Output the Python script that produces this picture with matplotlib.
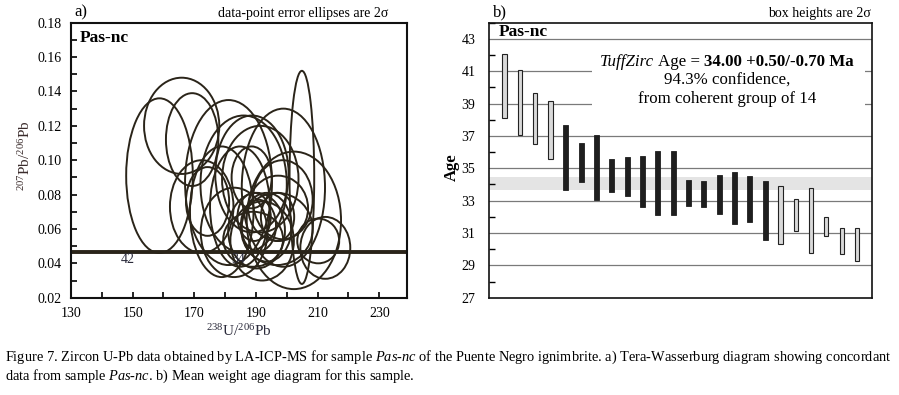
import matplotlib as mpl
mpl.use('agg')
import matplotlib.pyplot as plt
from matplotlib.patches import Ellipse, Rectangle
from matplotlib.ticker import MultipleLocator, FixedLocator
import numpy as np

plt.rcParams['font.family'] = ['Liberation Serif', 'DejaVu Serif']
plt.rcParams['mathtext.fontset'] = 'custom'
plt.rcParams['mathtext.rm'] = 'Liberation Serif'
plt.rcParams['mathtext.it'] = 'Liberation Serif:italic'
plt.rcParams['mathtext.bf'] = 'Liberation Serif:bold'

# a) Tera-Wasserburg error ellipses (centre, half-width, half-height)
ell_x  = [158.7, 165.9, 169.3, 181.1, 186.0, 198.9, 202.3, 172.4, 178.9, 184.8,
          189.4, 190.8, 190.2, 193.5, 196.8, 210.2, 212.5, 204.9, 191.4, 188.7,
          182.9, 192.0, 189.1, 174.3, 188.6, 198.7, 197.0, 197.2]
ell_y  = [0.091, 0.120, 0.112, 0.087, 0.086, 0.084, 0.065, 0.073, 0.070, 0.073,
          0.067, 0.062, 0.059, 0.061, 0.060, 0.053, 0.049, 0.090, 0.089, 0.092,
          0.058, 0.053, 0.054, 0.076, 0.090, 0.077, 0.067, 0.072]
ell_rx = [10.8, 12.2, 8.5, 14.1, 14.0, 13.5, 15.3, 10.3, 10.3, 9.7,
          5.4, 5.7, 9.2, 8.1, 11.6, 6.8, 8.1, 4.0, 12.4, 11.9,
          10.8, 10.3, 9.7, 7.0, 6.5, 9.7, 5.4, 9.7]
ell_ry = [0.045, 0.028, 0.027, 0.048, 0.040, 0.046, 0.040, 0.027, 0.038, 0.035,
          0.014, 0.015, 0.022, 0.020, 0.021, 0.013, 0.018, 0.062, 0.031, 0.034,
          0.026, 0.023, 0.016, 0.020, 0.018, 0.023, 0.014, 0.019]

conc_x = [130, 240]
conc_y = [0.0468, 0.0468]
conc_lbl = ['42', '34']
conc_lbl_x = [148.4, 184.3]
conc_lbl_y = [0.0423, 0.0423]

# b) weighted mean age boxes (2 sigma)
age_hi = [42.04, 41.05, 39.68, 39.18, 37.67, 36.56, 37.05, 35.57, 35.70, 35.78,
          36.07, 36.07, 34.28, 34.22, 34.59, 34.77, 34.53, 34.22, 33.89, 33.11,
          33.79, 31.98, 31.31, 31.31]
age_lo = [38.08, 37.03, 36.48, 35.55, 33.63, 34.18, 33.07, 33.56, 33.28, 32.58,
          32.09, 32.09, 32.64, 32.58, 32.15, 31.53, 31.66, 30.55, 30.30, 31.12,
          29.77, 30.79, 29.71, 29.28]
in_group = [0, 0, 0, 0, 1, 1, 1, 1, 1, 1, 1, 1, 1, 1, 1, 1, 1, 1, 0, 0, 0, 0, 0, 0]
mean_lo, mean_hi = 33.68, 34.45

ink = '#2a2419'
W, H = 899, 395

def px(x, y):
    return x / W, 1 - y / H

fig = plt.figure(figsize=(W / 100, H / 100), dpi=100)

# ---------- a) concordia panel
ax = fig.add_axes([71 / W, 1 - 297.7 / H, 336 / W, 275 / H])
for cx, cy, rx, ry in zip(ell_x, ell_y, ell_rx, ell_ry):
    ax.add_patch(Ellipse((cx, cy), 2 * rx, 2 * ry, fill=False, ec=ink, lw=1.4))
ax.plot(conc_x, conc_y, color=ink, lw=2.8, solid_capstyle='butt')
for lbl, lx, ly in zip(conc_lbl, conc_lbl_x, conc_lbl_y):
    ax.text(lx, ly, lbl, ha='center', va='center', fontsize=10, color='#2a2a3a')
ax.set_xlim(130, 239)
ax.set_ylim(0.02, 0.18)
ax.xaxis.set_major_locator(FixedLocator(range(130, 231, 20)))
ax.xaxis.set_minor_locator(MultipleLocator(10))
ax.yaxis.set_major_locator(MultipleLocator(0.02))
ax.yaxis.set_minor_locator(MultipleLocator(0.01))
ax.yaxis.set_major_formatter(mpl.ticker.FormatStrFormatter('%.2f'))
ax.tick_params(which='both', direction='in', top=False, right=False, labelsize=10, width=1.2)
ax.tick_params(which='major', length=4, pad=7)
ax.tick_params(which='minor', length=4)
for s in ax.spines.values():
    s.set_linewidth(1.5)
    s.set_color('#111111')
ax.text(0.027, 0.975, 'Pas-nc', transform=ax.transAxes, fontsize=12.5, fontweight='bold',
        ha='left', va='top')
fig.text(*px(74, 12), 'a)', fontsize=12, ha='left', va='center')
fig.text(*px(388, 14), 'data-point error ellipses are 2σ', fontsize=10, ha='right', va='center')
fig.text(*px(25, 156), '$^{207}$Pb/$^{206}$Pb', rotation=90, fontsize=11, color='#3a2b2b',
         ha='center', va='center')
fig.text(*px(239, 331), '$^{238}$U/$^{206}$Pb', fontsize=11, color='#2a2a3a',
         ha='center', va='center')

# ---------- b) weighted mean panel
bx = fig.add_axes([489.3 / W, 1 - 297.7 / H, 383 / W, 275 / H])
pos = np.arange(1, len(age_hi) + 1)
hi = np.array(age_hi)
lo = np.array(age_lo)
grp = np.array(in_group) == 1
bx.axhspan(mean_lo, mean_hi, color='#e4e4e4', lw=0, zorder=0.6)
for yv in range(29, 44, 2):
    bx.axhline(yv, color='#7a7a7a', lw=0.9, zorder=0.8)
bx.add_patch(Rectangle((6.7, 38.25), 17.8, 4.2, fc='white', ec='none', zorder=1))
bx.bar(pos[~grp], (hi - lo)[~grp], bottom=lo[~grp], width=0.28, color='#d9d9d9',
       edgecolor='#222222', lw=0.8, zorder=2)
bx.bar(pos[grp], (hi - lo)[grp], bottom=lo[grp], width=0.33, color='#1e1e1e',
       edgecolor='#1e1e1e', lw=0.6, zorder=2)
bx.set_xlim(0, 25)
bx.set_ylim(27, 44)
bx.set_xticks([])
bx.yaxis.set_major_locator(FixedLocator(range(27, 44, 2)))
bx.yaxis.set_minor_locator(MultipleLocator(1))
bx.tick_params(which='both', direction='in', right=False, labelsize=10, width=1)
bx.tick_params(which='major', length=0, pad=10)
bx.tick_params(which='minor', length=4)
for s in bx.spines.values():
    s.set_linewidth(1.2)
    s.set_color('#111111')

fs = 12.2
t1 = bx.text(7.22, 41.1, 'TuffZirc', fontsize=fs, fontstyle='italic', ha='left', va='bottom', zorder=3)
t2 = bx.annotate('Age =', xy=(1, 0), xycoords=t1, xytext=(3, 0), textcoords='offset points',
                 ha='left', va='bottom', fontsize=fs, zorder=3)
bx.annotate('34.00 +0.50/-0.70 Ma', xy=(1, 0), xycoords=t2, xytext=(3, 0), textcoords='offset points',
            ha='left', va='bottom', fontsize=fs, fontweight='bold', zorder=3)
bx.text(15.5, 40.46, '94.3% confidence,', fontsize=fs, ha='center', va='center', zorder=3)
bx.text(15.5, 39.3, 'from coherent group of 14', fontsize=fs, ha='center', va='center', zorder=3)

fig.text(*px(499, 32), 'Pas-nc', fontsize=12.5, fontweight='bold', ha='left', va='center')
fig.text(*px(493, 12), 'b)', fontsize=12, ha='left', va='center')
fig.text(*px(871, 14), 'box heights are 2σ', fontsize=10, ha='right', va='center')
fig.text(*px(452, 167), 'Age', rotation=90, fontsize=12, fontweight='bold',
         ha='center', va='center')

# ---------- caption
fig.text(*px(5, 357), 'Figure 7. Zircon U-Pb data obtained by LA-ICP-MS for sample $\\mathit{Pas}$-$\\mathit{nc}$ '
         'of the Puente Negro ignimbrite. a) Tera-Wasserburg diagram showing concordant',
         fontsize=10.35, ha='left', va='center')
fig.text(*px(5, 376), 'data from sample $\\mathit{Pas}$-$\\mathit{nc}$. b) Mean weight age diagram for this sample.',
         fontsize=10.35, ha='left', va='center')

plt.savefig('out.png', dpi=100)
plt.close(fig)
